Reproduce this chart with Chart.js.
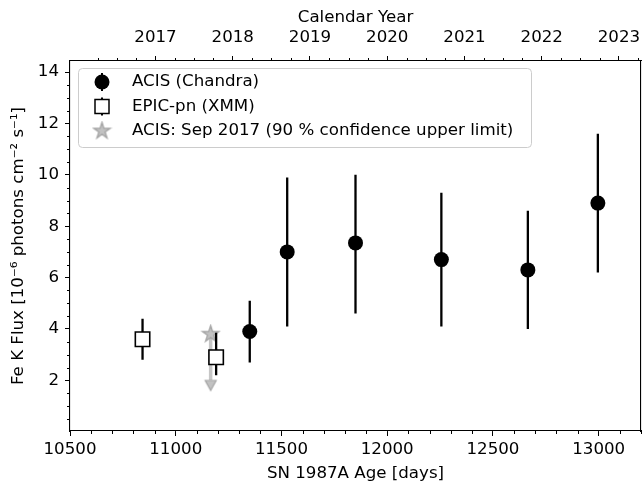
<!DOCTYPE html>
<html lang="en">
<head>
<meta charset="UTF-8">
<title>SN 1987A Fe K Flux</title>
<script src="https://cdn.jsdelivr.net/npm/chart.js@4.4.1/dist/chart.umd.min.js"></script>
<style>
  html, body { margin: 0; padding: 0; background: #fff; }
</style>
</head>
<body>
<canvas id="chart" width="642" height="485"></canvas>
<script>
// ACIS (Chandra) epochs: age in days, flux and error bar ends
const acisDays = [11350, 11527, 11850, 12256, 12665, 12996];
const acisFlux = [3.9, 7.0, 7.35, 6.7, 6.3, 8.9];
const acisLow  = [2.7, 4.1, 4.6, 4.1, 4.0, 6.2];
const acisHigh = [5.1, 9.9, 10.0, 9.3, 8.6, 11.6];

// EPIC-pn (XMM)
const xmmDays = [10843, 11191];
const xmmFlux = [3.6, 2.9];
const xmmLow  = [2.8, 2.2];
const xmmHigh = [4.4, 3.85];

// ACIS Sep 2017, 90% upper limit (arrow goes down to ulEnd)
const ulDays = [11165];
const ulFlux = [3.8];
const ulEnd  = [2.0];

// axes
const xTicks = [10500, 11000, 11500, 12000, 12500, 13000];
const yTicks = [2, 4, 6, 8, 10, 12, 14];
const years  = [2017, 2018, 2019, 2020, 2021, 2022, 2023];
const xMinorStep = 100, yMinorStep = 0.5, yearMinorStep = 0.25;

// SN 1987A exploded 1987 Feb 23
const EPOCH = 1987.1456;
const yearToDay = y => (y - EPOCH) * 365.25;

const font = { family: '"DejaVu Sans"', size: 16.67 };
const GREY_FILL = '#c2c2c2', GREY_EDGE = '#a4a4a4', GREY_LINE = '#c6c6c6';

function bars(days, lo, hi) {
  const out = [];
  days.forEach((d, i) => {
    out.push({x: d, y: lo[i]}, {x: d, y: hi[i]}, {x: d, y: null});
  });
  return out;
}

function starImage(r) {
  const c = document.createElement('canvas');
  const s = Math.ceil(r * 2 + 4);
  c.width = c.height = s;
  const g = c.getContext('2d');
  g.beginPath();
  for (let k = 0; k < 10; k++) {
    const rr = k % 2 ? r * 0.382 : r;
    const a = -Math.PI / 2 + k * Math.PI / 5;
    g.lineTo(s / 2 + rr * Math.cos(a), s / 2 + rr * Math.sin(a));
  }
  g.closePath();
  g.fillStyle = GREY_FILL; g.fill();
  g.lineWidth = 1.4; g.strokeStyle = GREY_EDGE; g.stroke();
  return c;
}

// caret whose base sits at the point, tip pointing down
function caretImage(w, h) {
  const c = document.createElement('canvas');
  c.width = 24; c.height = 24;
  const g = c.getContext('2d');
  g.beginPath();
  g.moveTo(12 - w / 2, 12); g.lineTo(12 + w / 2, 12); g.lineTo(12, 12 + h);
  g.closePath();
  g.fillStyle = GREY_FILL; g.fill();
  g.lineWidth = 1.2; g.strokeStyle = GREY_EDGE; g.stroke();
  return c;
}

const star = starImage(8.5);
const caret = caretImage(11, 10);

const minorTicks = {
  id: 'minorTicks',
  afterDraw(chart) {
    const {ctx, chartArea: a, scales} = chart;
    const px = v => Math.round(v) + 0.5;
    ctx.save();
    ctx.strokeStyle = '#000';
    ctx.lineWidth = 1;
    ctx.beginPath();
    for (let v = scales.x.min; v <= scales.x.max; v += xMinorStep) {
      if (v % 500 === 0) continue;
      const p = px(scales.x.getPixelForValue(v));
      ctx.moveTo(p, a.bottom); ctx.lineTo(p, a.bottom + 3);
    }
    for (let y = 2016; y <= 2024; y += yearMinorStep) {
      if (y % 1 === 0) continue;
      const d = yearToDay(y);
      if (d < scales.x2.min || d > scales.x2.max) continue;
      const p = px(scales.x2.getPixelForValue(d));
      ctx.moveTo(p, a.top); ctx.lineTo(p, a.top - 3);
    }
    for (let v = yMinorStep; v <= scales.y.max; v += yMinorStep) {
      if (v % 2 === 0 || v < scales.y.min) continue;
      const p = px(scales.y.getPixelForValue(v));
      ctx.moveTo(a.left, p); ctx.lineTo(a.left - 3, p);
    }
    ctx.stroke();
    ctx.restore();
  }
};

const legendBox = {
  id: 'legendBox',
  afterDraw(chart) {
    const ctx = chart.ctx;
    const bx = 78.5, by = 68.5, bw = 453, bh = 79;
    ctx.save();
    ctx.beginPath();
    ctx.roundRect(bx, by, bw, bh, 4);
    ctx.fillStyle = 'rgba(255,255,255,0.8)';
    ctx.fill();
    ctx.strokeStyle = '#cccccc';
    ctx.lineWidth = 1;
    ctx.stroke();

    const hx = 102, tx = 132;
    const rows = [82, 106.5, 131];
    // ACIS
    ctx.strokeStyle = '#000'; ctx.lineWidth = 2;
    ctx.beginPath(); ctx.moveTo(hx, rows[0] - 9); ctx.lineTo(hx, rows[0] + 9); ctx.stroke();
    ctx.beginPath(); ctx.arc(hx, rows[0], 7.5, 0, Math.PI * 2); ctx.fillStyle = '#000'; ctx.fill();
    // EPIC-pn
    ctx.beginPath(); ctx.moveTo(hx, rows[1] - 9); ctx.lineTo(hx, rows[1] + 9); ctx.stroke();
    ctx.fillStyle = '#fff'; ctx.fillRect(hx - 7, rows[1] - 7, 14, 14);
    ctx.lineWidth = 1.5; ctx.strokeRect(hx - 7, rows[1] - 7, 14, 14);
    // upper limit
    ctx.drawImage(star, hx - star.width / 2, rows[2] - star.height / 2);

    ctx.fillStyle = '#000';
    ctx.font = '16.67px "DejaVu Sans"';
    ctx.textBaseline = 'middle';
    ctx.fillText('ACIS (Chandra)', tx, rows[0]);
    ctx.fillText('EPIC-pn (XMM)', tx, rows[1]);
    ctx.fillText('ACIS: Sep 2017 (90 % confidence upper limit)', tx, rows[2]);
    ctx.restore();
  }
};

const axisCommon = {
  grid: { drawOnChartArea: false, tickLength: 5, tickColor: '#000', tickWidth: 1 },
  border: { color: '#000', width: 1.1 }
};

// keep the plot box fixed: no extra room for overhanging tick labels
const noPad = s => { s.paddingLeft = 0; s.paddingRight = 0; s.paddingTop = 0; s.paddingBottom = 0; };

new Chart(document.getElementById('chart'), {
  type: 'scatter',
  data: {
    datasets: [
      {
        label: 'ACIS (Chandra)',
        data: acisDays.map((d, i) => ({x: d, y: acisFlux[i]})),
        pointStyle: 'circle', pointRadius: 7.5,
        backgroundColor: '#000', borderColor: '#000', borderWidth: 0
      },
      {
        label: 'EPIC-pn (XMM)',
        data: xmmDays.map((d, i) => ({x: d, y: xmmFlux[i]})),
        pointStyle: 'rect', pointRadius: 10.2,
        backgroundColor: '#fff', borderColor: '#000', borderWidth: 1.6
      },
      {
        data: bars(acisDays, acisLow, acisHigh),
        showLine: true, pointRadius: 0, borderColor: '#000', borderWidth: 2.3
      },
      {
        data: bars(xmmDays, xmmLow, xmmHigh),
        showLine: true, pointRadius: 0, borderColor: '#000', borderWidth: 2.3
      },
      {
        label: 'ACIS: Sep 2017 (90 % confidence upper limit)',
        data: ulDays.map((d, i) => ({x: d, y: ulFlux[i]})),
        pointStyle: star
      },
      {
        data: ulDays.map((d, i) => ({x: d, y: ulEnd[i]})),
        pointStyle: caret
      },
      {
        data: bars(ulDays, ulEnd, ulFlux),
        showLine: true, pointRadius: 0, borderColor: GREY_LINE, borderWidth: 3.5
      }
    ]
  },
  options: {
    responsive: false,
    animation: false,
    layout: { padding: 0, autoPadding: false },
    plugins: { legend: { display: false }, tooltip: { enabled: false } },
    scales: {
      x: {
        type: 'linear', position: 'bottom', min: 10500, max: 13200, offset: false,
        afterBuildTicks: s => { s.ticks = xTicks.map(v => ({value: v})); },
        afterFit: s => { s.height = 54; noPad(s); },
        ticks: { font, color: '#000', padding: 4, maxRotation: 0, autoSkip: false, callback: v => String(v) },
        ...axisCommon,
        title: { display: true, text: 'SN 1987A Age [days]', font, color: '#000', padding: { top: 0, bottom: 1 } }
      },
      x2: {
        type: 'linear', position: 'top', min: 10500, max: 13200, offset: false,
        afterBuildTicks: s => { s.ticks = years.map(y => ({value: yearToDay(y)})); },
        afterFit: s => { s.height = 61; noPad(s); },
        ticks: { font, color: '#000', padding: 8, maxRotation: 0, autoSkip: false, callback: (v, i) => String(years[i]) },
        ...axisCommon,
        title: { display: true, text: 'Calendar Year', font, color: '#000', padding: { top: 8, bottom: 0 } }
      },
      y: {
        type: 'linear', position: 'left', min: 0.03, max: 14.43,
        afterBuildTicks: s => { s.ticks = yTicks.map(v => ({value: v})); },
        afterFit: s => { s.width = 70; noPad(s); },
        ticks: { font, color: '#000', padding: 6, callback: v => String(v) },
        ...axisCommon,
        title: { display: true, text: 'Fe K Flux [10⁻⁶ photons cm⁻² s⁻¹]', font, color: '#000', padding: { top: 9, bottom: 0 } }
      },
      y2: {
        type: 'linear', position: 'right', min: 0.03, max: 14.43,
        afterFit: s => { s.width = 1; noPad(s); },
        ticks: { display: false },
        grid: { drawOnChartArea: false, drawTicks: false },
        border: { color: '#000', width: 1.1 }
      }
    }
  },
  plugins: [minorTicks, legendBox]
});
</script>
</body>
</html>
